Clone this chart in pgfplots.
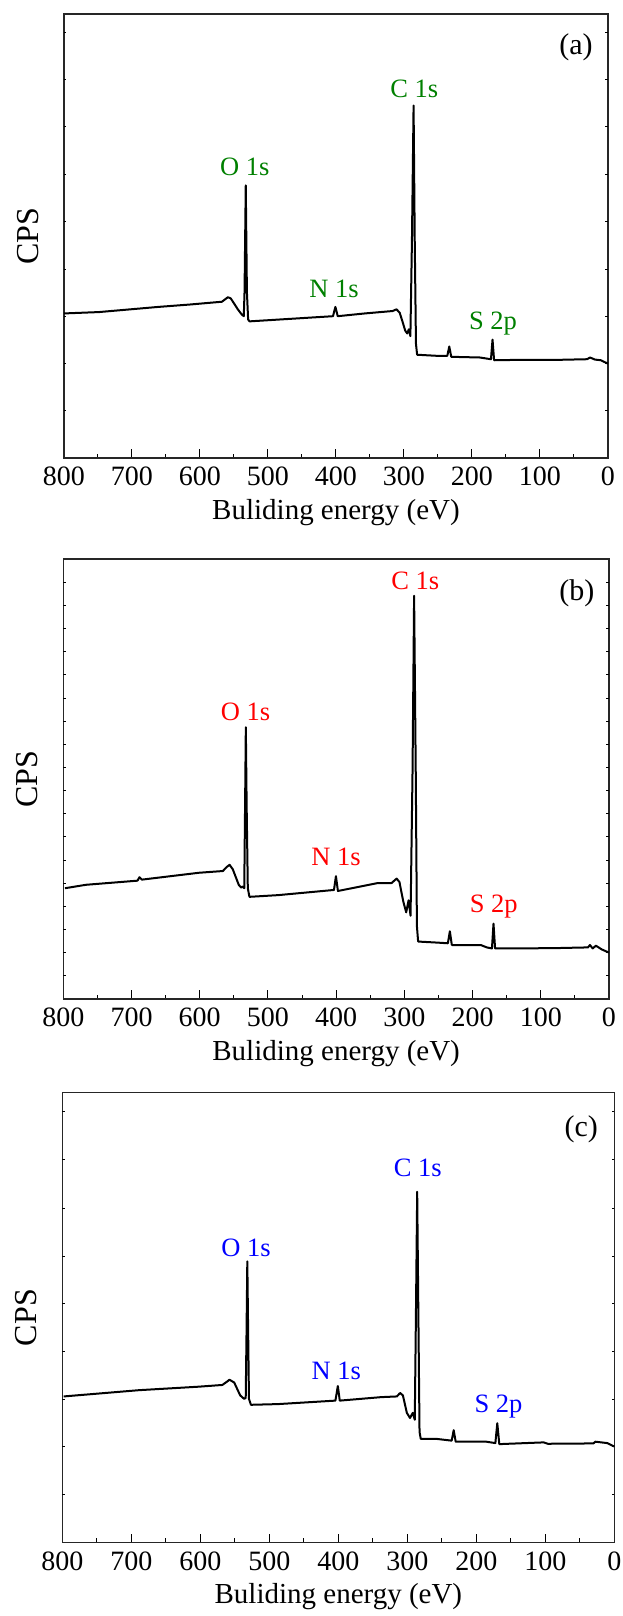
\documentclass[border=0pt]{standalone}
\usepackage{fontspec}
\setmainfont{Liberation Serif}
\usepackage{pgfplots}
\pgfplotsset{compat=1.18}
\definecolor{lblgreen}{RGB}{0,128,0}
\definecolor{lblred}{RGB}{255,0,0}
\definecolor{lblblue}{RGB}{0,0,255}
\tikzset{
  pk/.style={anchor=base, font=\fontsize{26.5}{26.5}\selectfont},
  pl/.style={anchor=base, font=\fontsize{30}{30}\selectfont},
}
\pgfplotsset{
  xps/.style={
    scale only axis, anchor=north west,
    x dir=reverse, xmin=0, xmax=800, ymin=0,
    xtick={0,100,...,800}, minor xtick={50,150,...,750},
    xtick pos=bottom,
    ytick=\empty, ytick pos=both,
    tick align=inside,
    major tick length=9pt, minor tick length=4.5pt,
    every tick/.style={black, line width=1pt},
    extra y tick labels={},
    extra y tick style={major tick length=2.5pt},
    axis line style={black!85, line width=1.3pt},
    /pgf/number format/assume math mode=true,
    xticklabel style={inner sep=0pt, yshift=-9pt, font=\fontsize{28}{28}\selectfont},
    xlabel={Buliding energy (eV)},
    xlabel style={at={([yshift=-61pt]axis description cs:0.5,0)}, anchor=base, font=\fontsize{29}{29}\selectfont},
    ylabel={CPS},
    ylabel style={at={([xshift=-36pt]axis description cs:0,0.5)}, anchor=center, font=\fontsize{32}{32}\selectfont},
    clip=false,
  },
  spec/.style={black, line width=2pt, line join=round, mark=none},
}
\begin{document}
\begin{tikzpicture}
\useasboundingbox (0,0) rectangle (623pt,-1616pt);
% ---------------- (a)
\begin{axis}[xps, at={(64pt,-14pt)}, width=544pt, height=444pt, ymax=1290,
  extra y ticks={137,275,412,549,686,824,962,1099,1236}]
\addplot[spec] coordinates {
(800,420) (748.6,424) (661.1,439) (614.4,446) (567.8,454) (559.0,467) (554.9,464)
(550.2,450) (544.4,432) (538.6,417) (535.6,412) (534.5,482) (532.7,792) (531.0,482)
(529.2,402) (527.0,397) (486.1,402) (404.4,412) (400.9,439) (397.4,412) (357.7,420)
(316.8,427) (311.0,432) (306.3,422) (302.3,397) (298.2,370) (295.3,362) (292.9,374)
(290.6,354) (288.3,632) (285.9,1024) (284.2,632) (282.4,332) (280.7,300) (252.7,297)
(236.3,297) (233.4,324) (230.5,294) (188.5,292) (172.1,287) (169.8,344) (167.5,284)
(136.0,285) (77.6,285) (30.9,287) (26.3,292) (19.3,286) (10.5,284) (0,274)
};
\node[pk, lblgreen] at (axis cs:284.7,1047) {C 1s};
\node[pk, lblgreen] at (axis cs:534,820) {O 1s};
\node[pk, lblgreen] at (axis cs:403,467) {N 1s};
\node[pk, lblgreen] at (axis cs:169,374) {S 2p};
\node[pl] at (axis cs:47,1171) {(a)};
\end{axis}
% ---------------- (b)
\begin{axis}[xps, at={(63.3pt,-559pt)}, width=545.7pt, height=440pt, ymax=1279,
  extra y ticks={67.3,134.6,...,1220}]
\addplot[spec] coordinates {
(797.6,322) (766.8,332) (691.2,344) (688.3,354) (684.8,347) (601.0,367) (566.1,372)
(560.3,384) (556.2,390) (551.5,377) (542.8,332) (539.3,324) (537.0,327) (534.7,322)
(533.5,562) (532.4,790) (531.2,562) (529.5,322) (527.1,297) (484.8,302) (403.2,317)
(400.3,357) (397.4,314) (339.2,337) (318.8,337) (311.3,350) (307.2,340) (301.4,282)
(297.3,252) (293.8,287) (290.9,242) (288.0,662) (285.7,1172) (283.3,662) (281.6,212)
(279.8,167) (251.9,164) (236.2,162) (233.3,197) (230.4,157) (187.9,157) (179.2,150)
(171.6,147) (169.3,219) (167.0,147) (135.6,147) (77.4,148) (30.8,150) (27.9,157)
(23.9,147) (19.2,155) (10.5,144) (0,135)
};
\node[pk, lblred] at (axis cs:284,1190) {C 1s};
\node[pk, lblred] at (axis cs:533,810) {O 1s};
\node[pk, lblred] at (axis cs:400,387) {N 1s};
\node[pk, lblred] at (axis cs:169,252) {S 2p};
\node[pl] at (axis cs:47,1159) {(b)};
\end{axis}
% ---------------- (c)
\begin{axis}[xps, at={(62.4pt,-1092.6pt)}, width=552pt, height=450pt, ymax=1293,
  extra y ticks={138,275,411,548,686,823,961,1101,1240}]
\addplot[spec] coordinates {
(798.2,420) (689.0,438) (602.7,448) (568.2,453) (562.5,461) (557.8,468) (551.0,460)
(542.3,423) (536.6,413) (534.3,416) (533.1,608) (532.0,808) (530.8,608) (529.6,413)
(526.8,396) (487.7,398) (404.3,408) (400.8,450) (398.0,408) (338.2,418) (315.2,420)
(310.6,430) (306.5,423) (300.8,373) (296.2,358) (292.2,373) (289.3,353) (287.6,658)
(285.8,1008) (284.1,658) (282.4,318) (280.6,298) (257.6,298) (235.8,293) (232.9,323)
(230.0,290) (185.8,290) (172.5,286) (169.7,343) (166.8,283) (102.4,288) (96.6,284)
(30.5,285) (27.6,290) (10.4,286) (0,276)
};
\node[pk, lblblue] at (axis cs:285,1053) {C 1s};
\node[pk, lblblue] at (axis cs:534,821) {O 1s};
\node[pk, lblblue] at (axis cs:403,470) {N 1s};
\node[pk, lblblue] at (axis cs:168,373) {S 2p};
\node[pl] at (axis cs:48,1166) {(c)};
\end{axis}
\end{tikzpicture}
\end{document}
